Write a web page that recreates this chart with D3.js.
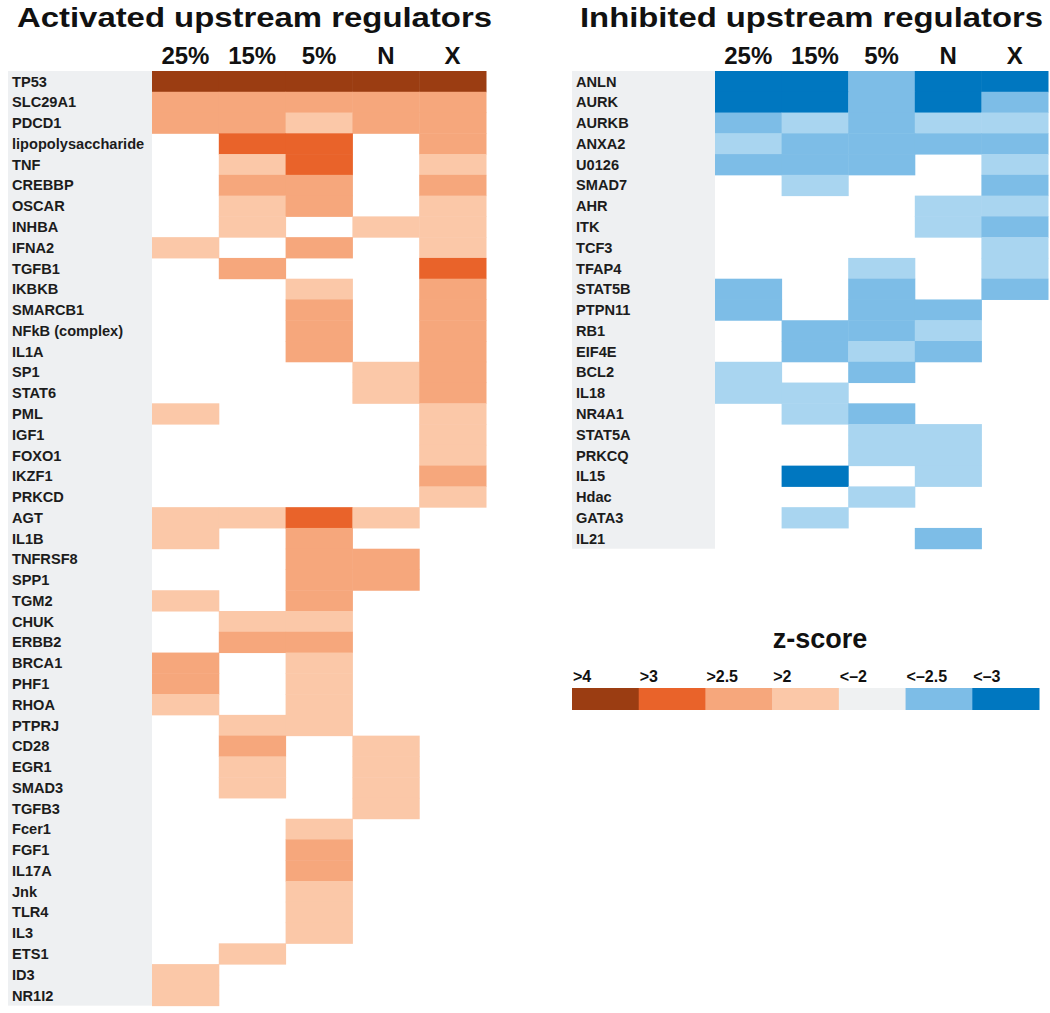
<!DOCTYPE html>
<html><head><meta charset="utf-8">
<script src="https://cdn.jsdelivr.net/npm/d3@7"></script>
<style>body{margin:0;background:#fff}svg{display:block;font-family:Arial,"Liberation Sans",sans-serif}</style>
</head><body><svg id="c" width="1050" height="1013"></svg>
<script>
const columns = ["25%","15%","5%","N","X"];
const activatedGenes = ["TP53","SLC29A1","PDCD1","lipopolysaccharide","TNF","CREBBP","OSCAR","INHBA","IFNA2","TGFB1","IKBKB","SMARCB1","NFkB (complex)","IL1A","SP1","STAT6","PML","IGF1","FOXO1","IKZF1","PRKCD","AGT","IL1B","TNFRSF8","SPP1","TGM2","CHUK","ERBB2","BRCA1","PHF1","RHOA","PTPRJ","CD28","EGR1","SMAD3","TGFB3","Fcer1","FGF1","IL17A","Jnk","TLR4","IL3","ETS1","ID3","NR1I2"];
const activatedZ = [
[4,4,4,4,4],[2.5,2.5,2.5,2.5,2.5],[2.5,2.5,2,2.5,2.5],[0,3,3,0,2.5],[0,2,3,0,2],
[0,2.5,2.5,0,2.5],[0,2,2.5,0,2],[0,2,0,2,2],[2,0,2.5,0,2],[0,2.5,0,0,3],
[0,0,2,0,2.5],[0,0,2.5,0,2.5],[0,0,2.5,0,2.5],[0,0,2.5,0,2.5],[0,0,0,2,2.5],
[0,0,0,2,2.5],[2,0,0,0,2],[0,0,0,0,2],[0,0,0,0,2],[0,0,0,0,2.5],
[0,0,0,0,2],[2,2,3,2,0],[2,0,2.5,0,0],[0,0,2.5,2.5,0],[0,0,2.5,2.5,0],
[2,0,2.5,0,0],[0,2,2,0,0],[0,2.5,2.5,0,0],[2.5,0,2,0,0],[2.5,0,2,0,0],
[2,0,2,0,0],[0,2,2,0,0],[0,2.5,0,2,0],[0,2,0,2,0],[0,2,0,2,0],
[0,0,0,2,0],[0,0,2,0,0],[0,0,2.5,0,0],[0,0,2.5,0,0],[0,0,2,0,0],
[0,0,2,0,0],[0,0,2,0,0],[0,2,0,0,0],[2,0,0,0,0],[2,0,0,0,0]];
const inhibitedGenes = ["ANLN","AURK","AURKB","ANXA2","U0126","SMAD7","AHR","ITK","TCF3","TFAP4","STAT5B","PTPN11","RB1","EIF4E","BCL2","IL18","NR4A1","STAT5A","PRKCQ","IL15","Hdac","GATA3","IL21"];
const inhibitedZ = [
[-3,-3,-2.5,-3,-3],[-3,-3,-2.5,-3,-2.5],[-2.5,-2,-2.5,-2,-2],[-2,-2.5,-2.5,-2.5,-2.5],[-2.5,-2.5,-2.5,0,-2],
[0,-2,0,0,-2.5],[0,0,0,-2,-2],[0,0,0,-2,-2.5],[0,0,0,0,-2],[0,0,-2,0,-2],
[-2.5,0,-2.5,0,-2.5],[-2.5,0,-2.5,-2.5,0],[0,-2.5,-2.5,-2,0],[0,-2.5,-2,-2.5,0],[-2,0,-2.5,0,0],
[-2,-2,0,0,0],[0,-2,-2.5,0,0],[0,0,-2,-2,0],[0,0,-2,-2,0],[0,-3,0,-2,0],
[0,0,-2,0,0],[0,-2,0,0,0],[0,0,0,-2.5,0]];
const legendLabels = [">4",">3",">2.5",">2","<\u20132","<\u20132.5","<\u20133"];
const legendColors = ["#9b3d12","#e9632a","#f6a77c","#fbc8a8","#eff1f2","#7dbde7","#0077c0"];

const cellColor = d3.scaleOrdinal()
  .domain([4,3,2.5,2,-2,-2.5,-3])
  .range(["#9b3d12","#e9632a","#f6a77c","#fbc8a8","#a9d5f0","#7dbde7","#0077c0"]);

const svg = d3.select("#c");
const rowH = 20.77;

function panel(opts){
  const g = svg.append("g");
  const x = d3.scaleBand().domain(columns).range([opts.x0, opts.x1]);
  const y = d3.scaleBand().domain(opts.genes).range([opts.y0, opts.y0 + rowH*opts.genes.length]);
  g.append("rect").attr("x",opts.lx).attr("y",opts.y0).attr("width",opts.x0-opts.lx)
    .attr("height",rowH*opts.genes.length).attr("fill","#eef0f2");
  const cells = [];
  opts.genes.forEach((gn,i)=>columns.forEach((c,j)=>{ if(opts.z[i][j]!==0) cells.push({g:gn,c:c,v:opts.z[i][j]}); }));
  g.selectAll("rect.cell").data(cells).join("rect").attr("class","cell")
    .attr("x",d=>x(d.c)).attr("y",d=>y(d.g)).attr("width",x.bandwidth()+0.5).attr("height",y.bandwidth()+0.5)
    .attr("fill",d=>cellColor(d.v));
  g.selectAll("text.lab").data(opts.genes).join("text").attr("class","lab")
    .attr("x",opts.lx+4).attr("y",d=>y(d)+y.bandwidth()/2).attr("dy","0.36em")
    .attr("font-size",14.6).attr("font-weight","bold").attr("fill","#1c1c1c").text(d=>d);
  g.selectAll("text.col").data(columns).join("text").attr("class","col")
    .attr("x",d=>x(d)+x.bandwidth()/2).attr("y",64).attr("text-anchor","middle")
    .attr("font-size",24).attr("font-weight","bold").attr("fill","#111").text(d=>d);
  g.append("text").attr("x",opts.tx).attr("y",27).attr("font-size",28.5).attr("font-weight","bold")
    .attr("textLength",opts.tw).attr("lengthAdjust","spacingAndGlyphs")
    .attr("fill","#111").text(opts.title);
}
panel({genes:activatedGenes,z:activatedZ,x0:152,x1:486,y0:71,lx:8,tx:17,tw:475,title:"Activated upstream regulators"});
panel({genes:inhibitedGenes,z:inhibitedZ,x0:715,x1:1048,y0:71,lx:572,tx:580,tw:463,title:"Inhibited upstream regulators"});

// legend
const lx = d3.scaleBand().domain(legendLabels).range([572,1039]);
const lg = svg.append("g");
lg.append("text").attr("x",820).attr("y",648).attr("text-anchor","middle").attr("font-size",27)
  .attr("font-weight","bold").attr("fill","#111").text("z-score");
lg.selectAll("rect").data(legendLabels).join("rect")
  .attr("x",d=>lx(d)).attr("y",688).attr("width",lx.bandwidth()+0.5).attr("height",22)
  .attr("fill",(d,i)=>legendColors[i]);
lg.selectAll("text.ll").data(legendLabels).join("text").attr("class","ll")
  .attr("x",d=>lx(d)+1).attr("y",682).attr("font-size",16).attr("font-weight","bold").attr("fill","#111").text(d=>d);
</script></body></html>
